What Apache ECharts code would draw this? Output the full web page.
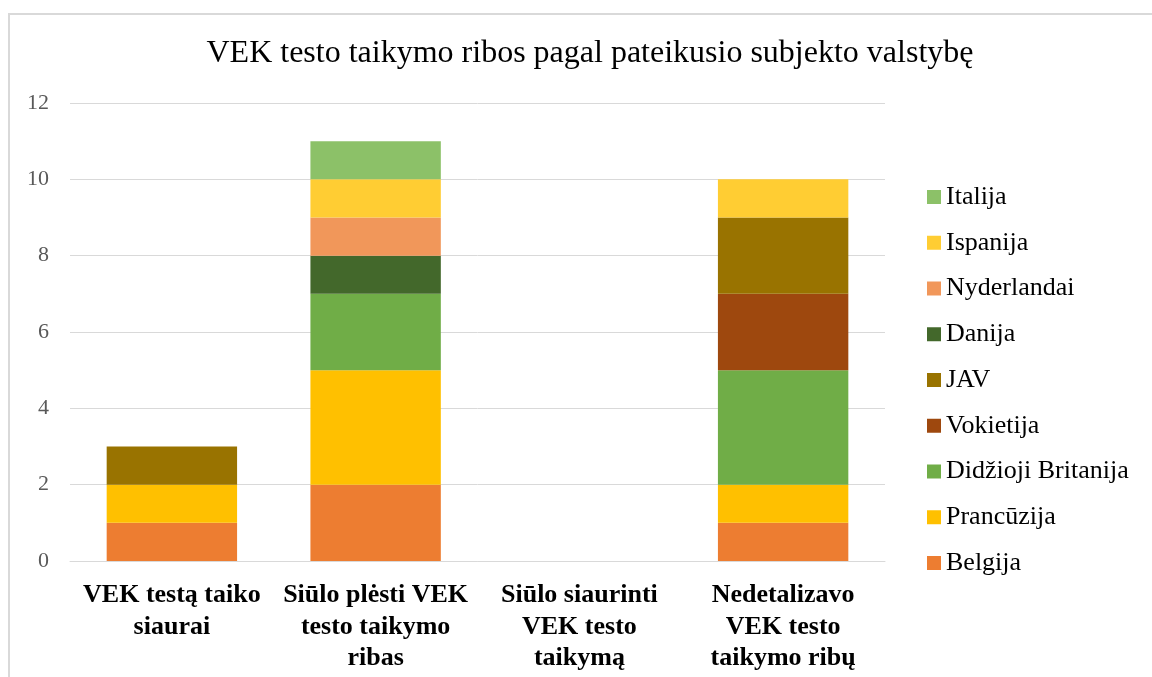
<!DOCTYPE html>
<html>
<head>
<meta charset="utf-8">
<script src="https://cdn.jsdelivr.net/npm/echarts@6/dist/echarts.min.js"></script>
<style>
html,body{margin:0;padding:0;background:#fff;overflow:hidden;}
#frame{position:absolute;left:8px;top:13px;width:1200px;height:700px;border:2px solid #d9d9d9;box-sizing:border-box;}
#c{position:absolute;left:0;top:0;width:1152px;height:677px;}
</style>
</head>
<body>
<div id="frame"></div>
<div id="c"></div>
<script>
const categories = ["VEK testą taiko\nsiaurai", "Siūlo plėsti VEK\ntesto taikymo\nribas", "Siūlo siaurinti\nVEK testo\ntaikymą", "Nedetalizavo\nVEK testo\ntaikymo ribų"];
const seriesNames = ["Belgija", "Prancūzija", "Didžioji Britanija", "Vokietija", "JAV", "Danija", "Nyderlandai", "Ispanija", "Italija"];
const belgija = [1, 2, 0, 1];
const prancuzija = [1, 3, 0, 1];
const didziojiBritanija = [0, 2, 0, 3];
const vokietija = [0, 0, 0, 2];
const jav = [1, 0, 0, 2];
const danija = [0, 1, 0, 0];
const nyderlandai = [0, 1, 0, 0];
const ispanija = [0, 1, 0, 1];
const italija = [0, 1, 0, 0];
const yTicks = [0, 2, 4, 6, 8, 10, 12];

const values = [belgija, prancuzija, didziojiBritanija, vokietija, jav, danija, nyderlandai, ispanija, italija];
const colors = ["#ED7D31", "#FFC000", "#70AD47", "#9E480E", "#997300", "#43682B", "#F1975A", "#FFCD33", "#8CC168"];
const serif = "Liberation Serif";

const chart = echarts.init(document.getElementById('c'), null, {renderer: 'canvas'});
chart.setOption({
  animation: false,
  title: {
    text: "VEK testo taikymo ribos pagal pateikusio subjekto valstybę",
    left: 585, top: 33, textAlign: 'center',
    textStyle: {fontFamily: serif, fontSize: 32, fontWeight: 'normal', color: '#000'}
  },
  legend: {
    orient: 'vertical', left: 922, top: 179,
    data: seriesNames.slice().reverse(),
    itemWidth: 14, itemHeight: 14, itemGap: 19.75,
    icon: 'rect',
    textStyle: {fontFamily: serif, fontSize: 26, color: '#000', lineHeight: 26}
  },
  grid: {left: 70, right: 267, top: 103, bottom: 116, containLabel: false},
  xAxis: {
    type: 'category', data: categories,
    axisLine: {show: true, lineStyle: {color: '#d9d9d9', width: 1}},
    axisTick: {show: false},
    axisLabel: {interval: 0, margin: 19, fontFamily: serif, fontSize: 26, fontWeight: 'bold', color: '#000', lineHeight: 31.5, align: 'center'}
  },
  yAxis: {
    type: 'value', min: yTicks[0], max: yTicks[yTicks.length - 1], interval: 2,
    axisLine: {show: false}, axisTick: {show: false},
    splitLine: {lineStyle: {color: '#d9d9d9', width: 1}},
    axisLabel: {margin: 21, fontFamily: serif, fontSize: 22, color: '#595959'}
  },
  series: seriesNames.map((n, i) => ({
    name: n, type: 'bar', stack: 'total', data: values[i],
    barCategoryGap: '36%',
    itemStyle: {color: colors[i]}
  }))
});
</script>
</body>
</html>
